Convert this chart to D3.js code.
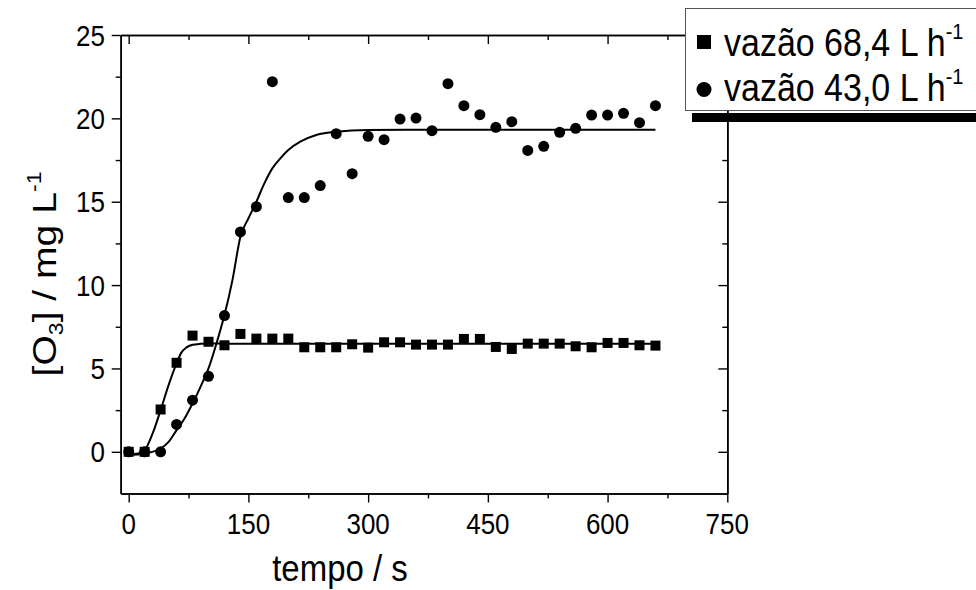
<html>
<head>
<script src="https://d3js.org/d3.v7.min.js"></script>
<style>
body { margin: 0; background: #fff; }
text { font-family: "Liberation Sans", Arial, sans-serif; fill: #000; }
</style>
</head>
<body>
<svg width="976" height="590"></svg>
<script>
// measured points, time in s
const tempo = [0,20,40,60,80,100,120,140,160,180,200,220,240,260,280,300,320,340,360,380,
               400,420,440,460,480,500,520,540,560,580,600,620,640,660];
const vazao68 = [0,0,2.54,5.34,6.97,6.6,6.39,7.07,6.79,6.79,6.79,6.27,6.27,6.27,6.45,6.25,6.57,6.57,6.43,6.43,
                 6.43,6.77,6.77,6.29,6.17,6.49,6.49,6.49,6.33,6.27,6.53,6.53,6.39,6.37];
const vazao43 = [0,0,0,1.64,3.1,4.53,8.17,13.19,14.7,22.2,15.25,15.25,15.97,19.08,16.68,18.92,18.72,19.96,20.02,19.26,
                 22.08,20.76,20.22,19.46,19.8,18.08,18.32,19.16,19.4,20.2,20.2,20.3,19.74,20.76];

// fitted curves
const fit68X = [0,10,20,30,40,50,60,66,72,80,90,100,130,660];
const fit68Y = [-0.15,-0.12,0.1,1.1,2.5,4.0,5.3,5.95,6.25,6.42,6.48,6.5,6.48,6.48];
const fit43X = [0,20,40,50,60,70,80,90,100,110,120,130,140,150,160,170,180,190,200,215,235,260,300,400,660];
const fit43Y = [-0.2,-0.1,0.2,0.6,1.3,2.0,2.9,3.9,5.0,6.5,8.2,10.3,12.9,14.0,15.0,16.1,17.0,17.6,18.1,18.6,19.0,19.2,19.3,19.32,19.32];

const xTicks = [0,150,300,450,600,750];
const xMinor = [75,225,375,525,675];
const yTicks = [0,5,10,15,20,25];
const yMinor = [2.5,7.5,12.5,17.5,22.5];
const legendLabels = ["vazão 68,4 L h", "vazão 43,0 L h"];

var mLeft = 120.7, mRight = 727.3, mTop = 35, mBottom = 493.5;
var sy = 1.12;   // text in the original is a bit taller than wide

var x = d3.scaleLinear().domain([-10, 750]).range([mLeft, mRight]);
var y = d3.scaleLinear().domain([-2.5, 25]).range([mBottom, mTop]);

var svg = d3.select('svg');

function styleAxis(g) {
  g.selectAll('path.domain').attr('stroke', '#000').attr('stroke-width', 1.6);
  g.selectAll('.tick line').attr('stroke', '#000').attr('stroke-width', 1.4);
  g.selectAll('.tick text').remove();
}

// bottom / left: ticks outward
svg.append('g').attr('transform', 'translate(0,' + mBottom + ')')
  .call(d3.axisBottom(x).tickValues(xTicks).tickSize(9).tickSizeOuter(0)).call(styleAxis);
svg.append('g').attr('transform', 'translate(0,' + mBottom + ')')
  .call(d3.axisBottom(x).tickValues(xMinor).tickSize(5).tickSizeOuter(0)).call(styleAxis);
svg.append('g').attr('transform', 'translate(' + mLeft + ',0)')
  .call(d3.axisLeft(y).tickValues(yTicks).tickSize(9).tickSizeOuter(0)).call(styleAxis);
svg.append('g').attr('transform', 'translate(' + mLeft + ',0)')
  .call(d3.axisLeft(y).tickValues(yMinor).tickSize(5).tickSizeOuter(0)).call(styleAxis);
// top / right: mirrored, ticks inward
svg.append('g').attr('transform', 'translate(0,' + mTop + ')')
  .call(d3.axisTop(x).tickValues(xTicks).tickSize(-9).tickSizeOuter(0)).call(styleAxis);
svg.append('g').attr('transform', 'translate(0,' + mTop + ')')
  .call(d3.axisTop(x).tickValues(xMinor).tickSize(-5).tickSizeOuter(0)).call(styleAxis);
svg.append('g').attr('transform', 'translate(' + mRight + ',0)')
  .call(d3.axisRight(y).tickValues(yTicks).tickSize(-9).tickSizeOuter(0)).call(styleAxis);
svg.append('g').attr('transform', 'translate(' + mRight + ',0)')
  .call(d3.axisRight(y).tickValues(yMinor).tickSize(-5).tickSizeOuter(0)).call(styleAxis);

// tick labels
svg.append('g').selectAll('text').data(xTicks).enter().append('text')
  .attr('transform', d => 'translate(' + x(d) + ',534) scale(1,' + sy + ')')
  .attr('text-anchor', 'middle').style('font-size', '26px').text(d => d);
svg.append('g').selectAll('text').data(yTicks).enter().append('text')
  .attr('transform', d => 'translate(105,' + (y(d) + 10.5) + ') scale(1,' + sy + ')')
  .attr('text-anchor', 'end').style('font-size', '26px').text(d => d);

// axis titles
svg.append('text')
  .attr('transform', 'translate(340,581) scale(1,1.12)')
  .attr('text-anchor', 'middle').style('font-size', '33px').text('tempo / s');

var yt = svg.append('text')
  .attr('transform', 'translate(56,274) rotate(-90) scale(1.15,1)')
  .attr('text-anchor', 'middle').style('font-size', '34px');
yt.append('tspan').text('[O');
yt.append('tspan').attr('dy', 7).style('font-size', '20px').text('3');
yt.append('tspan').attr('dy', -7).text('] / mg L');
yt.append('tspan').attr('dy', -15).style('font-size', '20px').text('-1');

// fitted lines
var line = d3.line().x(d => x(d[0])).y(d => y(d[1])).curve(d3.curveMonotoneX);
svg.append('path').datum(d3.zip(fit68X, fit68Y))
  .attr('d', line).attr('fill', 'none').attr('stroke', '#000').attr('stroke-width', 2);
svg.append('path').datum(d3.zip(fit43X, fit43Y))
  .attr('d', line).attr('fill', 'none').attr('stroke', '#000').attr('stroke-width', 2);

// points
var sq = 10;
svg.append('g').selectAll('rect').data(d3.zip(tempo, vazao68)).enter().append('rect')
  .attr('x', d => x(d[0]) - sq/2).attr('y', d => y(d[1]) - sq/2)
  .attr('width', sq).attr('height', sq).attr('fill', '#000');
svg.append('g').selectAll('circle').data(d3.zip(tempo, vazao43)).enter().append('circle')
  .attr('cx', d => x(d[0])).attr('cy', d => y(d[1])).attr('r', 5.5).attr('fill', '#000');

// legend with shadow
var lg = svg.append('g');
lg.append('rect').attr('x', 692).attr('y', 113).attr('width', 300).attr('height', 9).attr('fill', '#000');
lg.append('rect').attr('x', 685.5).attr('y', 8.5).attr('width', 300).attr('height', 102)
  .attr('fill', '#fff').attr('stroke', '#555').attr('stroke-width', 1);
lg.append('rect').attr('x', 697).attr('y', 35).attr('width', 14).attr('height', 14).attr('fill', '#000');
lg.append('circle').attr('cx', 704).attr('cy', 89.5).attr('r', 7.5).attr('fill', '#000');
legendLabels.forEach(function(s, i) {
  var t = lg.append('text')
    .attr('transform', 'translate(724,' + (56 + i * 45) + ') scale(1,' + sy + ')')
    .style('font-size', '34px');
  t.append('tspan').text(s);
  t.append('tspan').attr('dy', -15).style('font-size', '20px').text('-1');
});
</script>
</body>
</html>
